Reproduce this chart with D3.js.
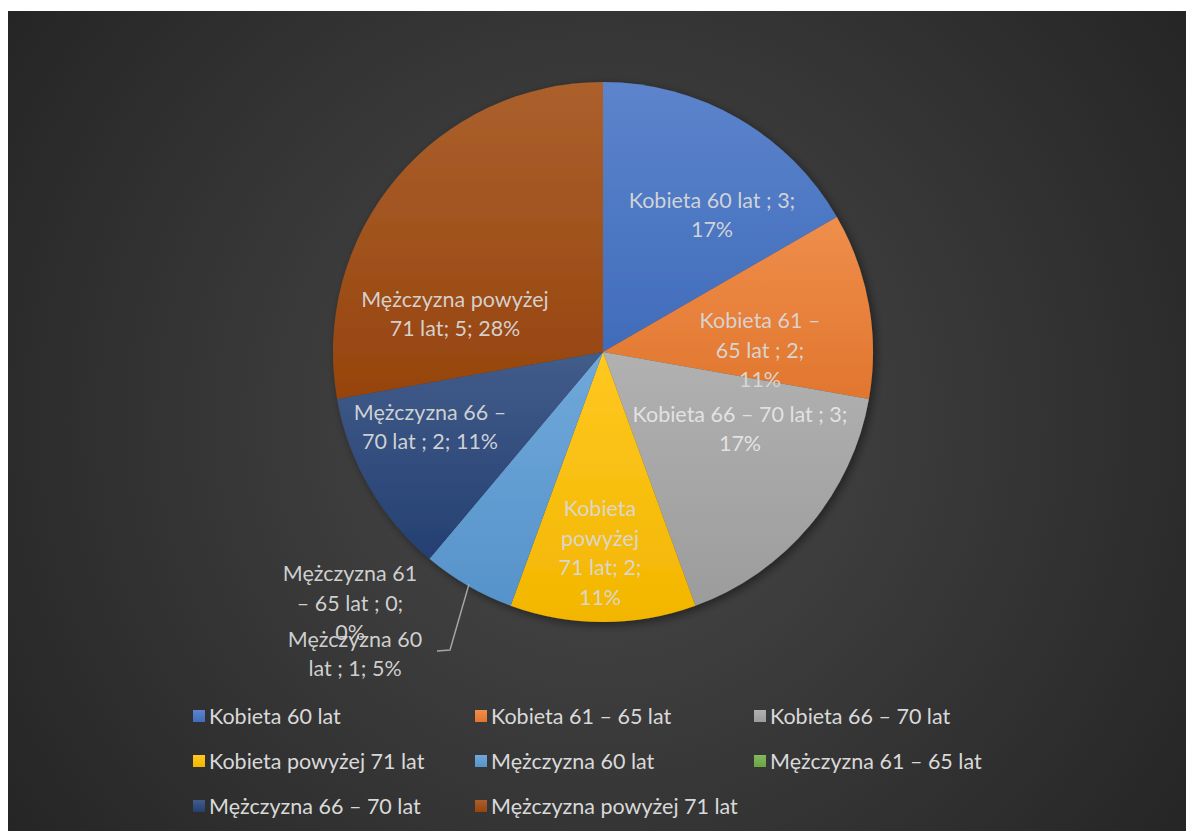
<!DOCTYPE html>
<html>
<head>
<meta charset="utf-8">
<script src="https://cdn.jsdelivr.net/npm/d3@7/dist/d3.min.js"></script>
<style>
  html, body { margin: 0; padding: 0; background: #fff; }
  svg { display: block; }
  text { font-family: Lato, "Open Sans", sans-serif; }
</style>
</head>
<body>
<svg id="chart" width="1186" height="831"></svg>
<script>
// dane
const categories = [
  'Kobieta 60 lat', 'Kobieta 61 – 65 lat', 'Kobieta 66 – 70 lat', 'Kobieta powyżej 71 lat',
  'Mężczyzna 60 lat', 'Mężczyzna 61 – 65 lat', 'Mężczyzna 66 – 70 lat', 'Mężczyzna powyżej 71 lat'
];
const values   = [3, 2, 3, 2, 1, 0, 2, 5];
const percents = ['17%', '11%', '17%', '11%', '5%', '0%', '11%', '28%'];
// etykiety danych, złamane tak jak w oryginale
const labelLines = [
  ['Kobieta 60 lat ; 3;', '17%'],
  ['Kobieta 61 –', '65 lat ; 2;', '11%'],
  ['Kobieta 66 – 70 lat ; 3;', '17%'],
  ['Kobieta', 'powyżej', '71 lat; 2;', '11%'],
  ['Mężczyzna 60', 'lat ; 1; 5%'],
  ['Mężczyzna 61', '– 65 lat ; 0;', '0%'],
  ['Mężczyzna 66 –', '70 lat ; 2; 11%'],
  ['Mężczyzna powyżej', '71 lat; 5; 28%']
];
const colors = ['#4472C4', '#ED7D31', '#A5A5A5', '#FFC000', '#5B9BD5', '#70AD47', '#264478', '#9E480E'];

// układ
const W = 1186, H = 831;
const cx = 603, cy = 352, R = 270;
// środki bloków etykiet względem środka koła (jak ustawił je Excel)
const labelAt = [
  [109, -137], [157, -2], [137, 77], [-3, 201],
  [-248, 302], [-253, 251], [-173, 75], [-148, -38]
];
const lineH = 29.5;
const fs = 21.5;

const svg = d3.select('#chart');
const defs = svg.append('defs');

// tło: ciemny gradient radialny
const bg = defs.append('radialGradient')
  .attr('id', 'bg').attr('gradientUnits', 'userSpaceOnUse')
  .attr('cx', 600).attr('cy', 420).attr('r', 720);
bg.append('stop').attr('offset', 0).attr('stop-color', '#4a4a4a');
bg.append('stop').attr('offset', 1).attr('stop-color', '#252525');

svg.append('rect')
  .attr('x', 8).attr('y', 11).attr('width', W - 8).attr('height', H - 11)
  .attr('fill', 'url(#bg)');

// cień pod kołem
const sh = defs.append('filter').attr('id', 'shadow')
  .attr('x', '-20%').attr('y', '-20%').attr('width', '140%').attr('height', '140%');
sh.append('feDropShadow')
  .attr('dx', 3).attr('dy', 3).attr('stdDeviation', 5)
  .attr('flood-color', '#000').attr('flood-opacity', 0.45);

// gradienty wycinków (jaśniej u góry)
colors.forEach((c, i) => {
  const g = defs.append('linearGradient').attr('id', 'sl' + i)
    .attr('x1', 0).attr('y1', 0).attr('x2', 0).attr('y2', 1);
  g.append('stop').attr('offset', 0).attr('stop-color', d3.interpolateRgb(c, '#ffffff')(0.13));
  g.append('stop').attr('offset', 1).attr('stop-color', d3.color(c).darker(0.15));
});

const pie = d3.pie().sort(null).value(d => d)(values);
const arc = d3.arc().innerRadius(0).outerRadius(R);

const pieG = svg.append('g')
  .attr('transform', `translate(${cx},${cy})`)
  .attr('filter', 'url(#shadow)');

pieG.selectAll('path.slice')
  .data(pie)
  .join('path')
  .attr('class', 'slice')
  .attr('d', arc)
  .attr('fill', (d, i) => `url(#sl${i})`)
  .attr('stroke', 'none');

// linia odniesienia dla Mężczyzna 60 lat
const m60 = pie[4];
const mid = (m60.startAngle + m60.endAngle) / 2;
const p0 = [Math.sin(mid) * (R - 2), -Math.cos(mid) * (R - 2)];
const la = labelAt[4];
const leader = [p0, [la[0] + 95, la[1] - 4], [la[0] + 82, la[1] - 3]];
svg.append('path')
  .attr('transform', `translate(${cx},${cy})`)
  .attr('d', d3.line()(leader))
  .attr('fill', 'none')
  .attr('stroke', '#a6a6a6')
  .attr('stroke-width', 1.5);

// etykiety danych
const labG = svg.append('g').attr('transform', `translate(${cx},${cy})`);
labelLines.forEach((lines, i) => {
  const [dx, dy] = labelAt[i];
  const y0 = dy - (lines.length - 1) * lineH / 2;
  const t = labG.append('text')
    .attr('text-anchor', 'middle')
    .attr('font-size', fs)
    .attr('fill', i === 2 ? '#e6e6e6' : '#d9d9d9')
    .attr('fill-opacity', 0.95);
  lines.forEach((ln, k) => {
    t.append('tspan')
      .attr('x', dx)
      .attr('y', y0 + k * lineH + 7.5)
      .text(ln);
  });
});

// legenda
const legX = [193, 475, 754];
const legY = [716, 761, 806];
const legG = svg.append('g');
categories.forEach((name, i) => {
  const col = i % 3, row = Math.floor(i / 3);
  const g = legG.append('g').attr('transform', `translate(${legX[col]},${legY[row]})`);
  g.append('rect')
    .attr('x', 0).attr('y', -6).attr('width', 12).attr('height', 12)
    .attr('fill', `url(#sl${i})`);
  g.append('text')
    .attr('x', 16).attr('y', 7.5)
    .attr('font-size', fs)
    .attr('fill', '#d9d9d9')
    .text(name);
});
</script>
</body>
</html>
